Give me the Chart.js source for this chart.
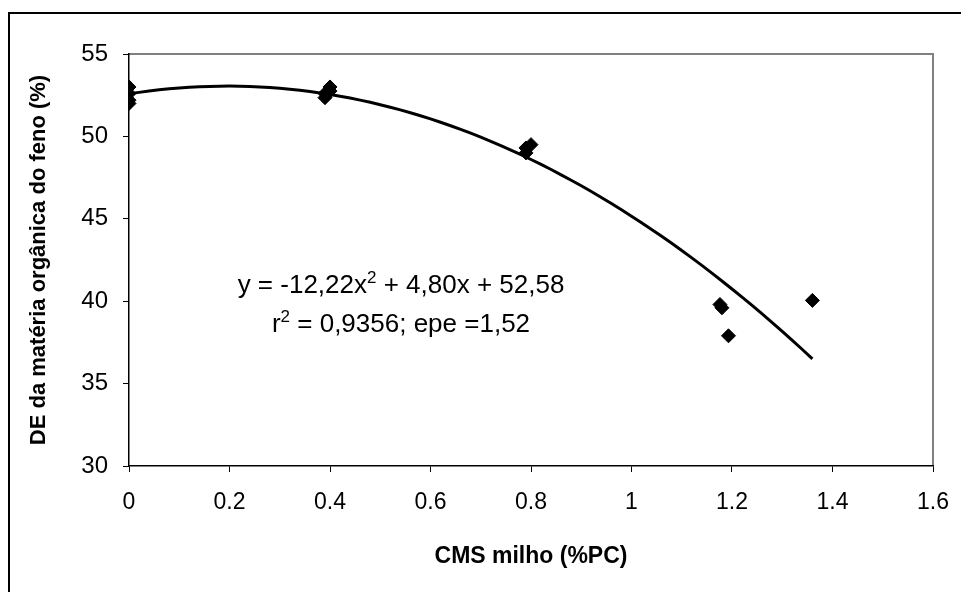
<!DOCTYPE html>
<html>
<head>
<meta charset="utf-8">
<script src="https://cdn.jsdelivr.net/npm/chart.js@4/dist/chart.umd.min.js"></script>
<style>
  html, body { margin: 0; padding: 0; background: #fff; }
  #wrap { width: 961px; height: 592px; }
</style>
</head>
<body>
<div id="wrap"><canvas id="chart" width="961" height="592"></canvas></div>
<script>
const cmsMilho = [0, 0, 0, 0, 0.39, 0.39, 0.40, 0.40, 0.79, 0.79, 0.80, 1.176, 1.18, 1.193, 1.36];
const deMateria = [53.0, 52.6, 52.2, 52.0, 52.6, 52.35, 53.0, 52.75, 49.0, 49.3, 49.5, 39.8, 39.6, 37.9, 40.05];
const xTicks = [0, 0.2, 0.4, 0.6, 0.8, 1, 1.2, 1.4, 1.6];
const yTicks = [30, 35, 40, 45, 50, 55];

// quadratic fit: a*x^2 + b*x + c, plotted over the observed x range
const fitCoef = [-12.22, 4.80, 52.58];
const fitRange = [0, 1.36];

const fitPoints = [];
for (let i = 0; i <= 68; i++) {
  const x = fitRange[0] + (fitRange[1] - fitRange[0]) * i / 68;
  fitPoints.push({ x: x, y: fitCoef[0] * x * x + fitCoef[1] * x + fitCoef[2] });
}

const FONT = "'Liberation Sans', Arial, sans-serif";

// outer frame plus the gray top/right edges of the plot area
const frame = {
  id: "frame",
  beforeDraw(chart) {
    const ctx = chart.ctx;
    const a = chart.chartArea;
    ctx.save();
    ctx.strokeStyle = "#000";
    ctx.lineWidth = 2;
    ctx.strokeRect(9, 13, 1100, 800);
    ctx.strokeStyle = "#808080";
    ctx.lineWidth = 2;
    ctx.beginPath();
    ctx.moveTo(a.left, a.top);
    ctx.lineTo(a.right, a.top);
    ctx.lineTo(a.right, a.bottom);
    ctx.stroke();
    ctx.restore();
  }
};

// equation text, with the "2" after x / r drawn as superscript
const equation = {
  id: "equation",
  afterDraw(chart) {
    const ctx = chart.ctx;
    const main = "26px " + FONT;
    const sup = "17px " + FONT;
    const cx = 401;
    const rows = [
      [["y = -12,22x", false], ["2", true], [" + 4,80x + 52,58", false]],
      [["r", false], ["2", true], [" = 0,9356; epe =1,52", false]]
    ];
    const baselines = [293, 332];
    ctx.save();
    ctx.fillStyle = "#000";
    ctx.textBaseline = "alphabetic";
    ctx.textAlign = "left";
    rows.forEach((parts, r) => {
      let w = 0;
      parts.forEach(p => { ctx.font = p[1] ? sup : main; w += ctx.measureText(p[0]).width; });
      let x = cx - w / 2;
      parts.forEach(p => {
        ctx.font = p[1] ? sup : main;
        ctx.fillText(p[0], x, baselines[r] - (p[1] ? 10 : 0));
        x += ctx.measureText(p[0]).width;
      });
    });
    ctx.restore();
  }
};

new Chart(document.getElementById("chart"), {
  type: "scatter",
  data: {
    datasets: [
      {
        label: "fit",
        data: fitPoints,
        showLine: true,
        borderColor: "#000",
        borderWidth: 3,
        pointRadius: 0,
        tension: 0,
        order: 2
      },
      {
        label: "DE",
        data: cmsMilho.map((x, i) => ({ x: x, y: deMateria[i] })),
        pointStyle: "rectRot",
        pointRadius: 7,
        pointBackgroundColor: "#000",
        pointBorderColor: "#000",
        order: 1
      }
    ]
  },
  plugins: [frame, equation],
  options: {
    responsive: false,
    animation: false,
    layout: { padding: { left: 0, top: 54, right: 28, bottom: 0 } },
    plugins: {
      legend: { display: false },
      tooltip: { enabled: false }
    },
    scales: {
      x: {
        type: "linear",
        min: 0,
        max: 1.6,
        afterBuildTicks: s => { s.ticks = xTicks.map(v => ({ value: v })); },
        afterFit: s => { s.height = 126; s.paddingLeft = 0; s.paddingRight = 0; },
        ticks: {
          color: "#000",
          font: { family: FONT, size: 23 },
          padding: 17,
          maxRotation: 0,
          callback: v => String(Number(v.toFixed(1)))
        },
        grid: { drawOnChartArea: false, drawTicks: true, tickLength: 6, color: "#000" },
        border: { color: "#000", width: 1.5 },
        title: {
          display: true,
          text: "CMS milho (%PC)",
          color: "#000",
          font: { family: FONT, size: 23, weight: "bold" },
          padding: { top: 0, bottom: 22 }
        }
      },
      y: {
        min: 30,
        max: 55,
        afterBuildTicks: s => { s.ticks = yTicks.map(v => ({ value: v })); },
        afterFit: s => { s.width = 129; s.paddingTop = 0; s.paddingBottom = 0; },
        ticks: {
          color: "#000",
          font: { family: FONT, size: 24 },
          padding: 15
        },
        grid: { drawOnChartArea: false, drawTicks: true, tickLength: 6, color: "#000" },
        border: { color: "#000", width: 1.5 },
        title: {
          display: true,
          text: "DE da matéria orgânica do feno (%)",
          color: "#000",
          font: { family: FONT, size: 22, weight: "bold" },
          padding: { top: 26, bottom: 0 }
        }
      }
    }
  }
});
</script>
</body>
</html>
